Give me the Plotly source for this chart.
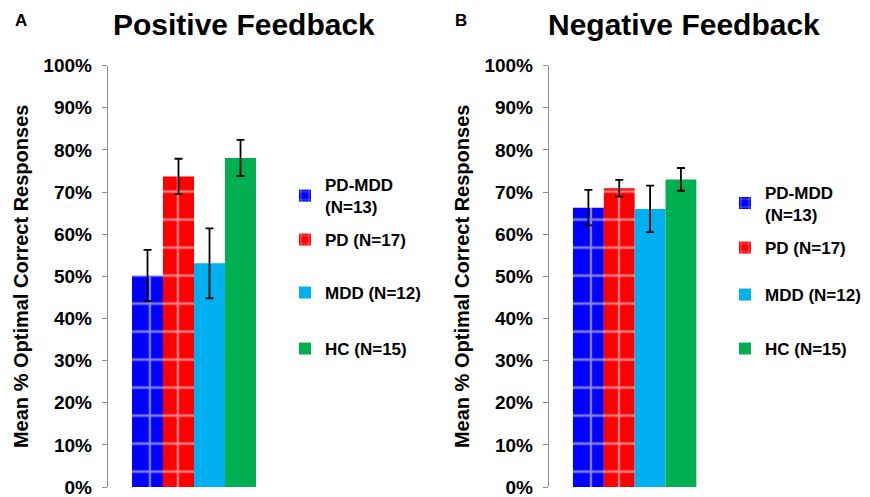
import plotly.graph_objects as go

groups = ["PD-MDD<br>(N=13)", "PD (N=17)", "MDD (N=12)", "HC (N=15)"]
colors = ["#0000FF", "#FF0000", "#00B0F0", "#00B050"]
patterned = [True, True, False, False]

pos_means = [50.2, 73.7, 53.1, 78.1]
pos_err = [6.1, 4.2, 8.3, 4.3]
neg_means = [66.3, 70.9, 66.0, 73.0]
neg_err = [4.2, 2.0, 5.5, 2.7]

yticks = [0, 10, 20, 30, 40, 50, 60, 70, 80, 90, 100]
ytick_text = [f"{v}%" for v in yticks]

FONT = "Liberation Sans, Arial, sans-serif"

# legend item placement (paper coords)
leg_y = [[0.6056, 0.5171, 0.4105, 0.2978], [0.5905, 0.501, 0.4064, 0.2978]]
leg_x = [0.3276, 0.8333]

fig = go.Figure()
legends = {}
for panel, (means, errs) in enumerate([(pos_means, pos_err), (neg_means, neg_err)]):
    xa = "x" if panel == 0 else "x2"
    ya = "y" if panel == 0 else "y2"
    for i, g in enumerate(groups):
        k = panel * 4 + i + 1
        lname = "legend" if k == 1 else f"legend{k}"
        pattern = dict(shape="+", fgcolor="white", size=28, solidity=0.16) if patterned[i] else dict(shape="")
        fig.add_trace(go.Bar(
            x=["g"], y=[means[i]], name=g, showlegend=True,
            marker=dict(color=colors[i], line=dict(width=0), pattern=pattern),
            error_y=dict(type="data", array=[errs[i]], visible=True,
                         color="black", thickness=1.8, width=4),
            xaxis=xa, yaxis=ya, legend=lname,
        ))
        legends[lname] = dict(x=leg_x[panel], y=leg_y[panel][i], xanchor="left", yanchor="middle",
                              font=dict(family=FONT, size=17, color="black", weight="bold"),
                              bgcolor="rgba(0,0,0,0)", borderwidth=0, visible=True)

axis_common = dict(range=[0, 100], tickvals=yticks, ticktext=ytick_text,
                   showgrid=False, zeroline=False, showline=True, automargin=False,
                   linecolor="#8C8C8C", linewidth=1.3, ticks="outside",
                   ticklen=5, tickcolor="#8C8C8C", ticklabelstandoff=6,
                   ticklabeloverflow="allow",
                   tickfont=dict(family=FONT, size=19, color="black", weight="bold"))

ytitle = dict(text="<b>Mean % Optimal Correct Responses</b>",
              font=dict(family=FONT, size=20, color="black"), standoff=9)

fig.update_layout(
    width=870, height=497,
    showlegend=True,
    margin=dict(l=0, r=0, t=0, b=0, autoexpand=False),
    paper_bgcolor="white", plot_bgcolor="white",
    barmode="group", bargap=0.28, bargroupgap=0,
    font=dict(family=FONT, color="black"),
    xaxis=dict(domain=[0.124, 0.322], showticklabels=False, showline=False,
               showgrid=False, zeroline=False, anchor="y", automargin=False),
    xaxis2=dict(domain=[0.631, 0.828], showticklabels=False, showline=False,
                showgrid=False, zeroline=False, anchor="y2", automargin=False),
    yaxis=dict(domain=[0.02, 0.868], anchor="x", title=ytitle, **axis_common),
    yaxis2=dict(domain=[0.02, 0.868], anchor="x2", title=ytitle, **axis_common),
    annotations=[
        dict(text="<b>Positive Feedback</b>", x=0.28, y=0.951, xref="paper", yref="paper",
             xanchor="center", yanchor="middle",
             showarrow=False, font=dict(family=FONT, size=30, color="black")),
        dict(text="<b>Negative Feedback</b>", x=0.786, y=0.951, xref="paper", yref="paper",
             xanchor="center", yanchor="middle",
             showarrow=False, font=dict(family=FONT, size=30, color="black")),
        dict(text="<b>A</b>", x=0.024, y=0.958, xref="paper", yref="paper",
             xanchor="center", yanchor="middle",
             showarrow=False, font=dict(family=FONT, size=17, color="black")),
        dict(text="<b>B</b>", x=0.53, y=0.958, xref="paper", yref="paper",
             xanchor="center", yanchor="middle",
             showarrow=False, font=dict(family=FONT, size=17, color="black")),
    ],
    **legends,
)

fig.write_html("out.html", config={"displayModeBar": False},
               post_script="document.body.style.margin='0';document.body.style.padding='0';")
